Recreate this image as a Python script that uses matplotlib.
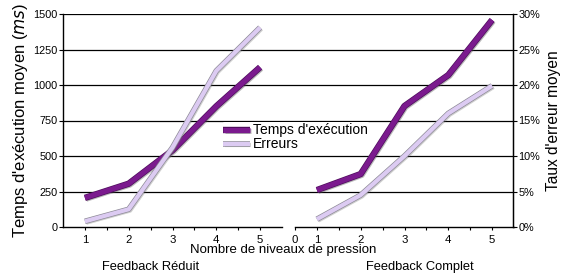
import matplotlib
matplotlib.use("Agg")
from matplotlib import pyplot as plt
from matplotlib.ticker import FixedLocator
import matplotlib.patheffects as pe

plt.rcParams['font.family'] = ['Liberation Sans', 'DejaVu Sans']

levels = [1, 2, 3, 4, 5]
temps_reduit = [205, 305, 540, 850, 1125]      # ms
erreurs_reduit = [0.8, 2.5, 11.2, 22.0, 28.1]   # %
temps_complet = [260, 373, 852, 1070, 1458]     # ms
erreurs_complet = [1.1, 4.5, 10.0, 16.0, 19.9]  # %

ms_ticks = [0, 250, 500, 750, 1000, 1250, 1500]
pct_ticks = [0, 5, 10, 15, 20, 25, 30]

c_temps = "#7b1a8e"
c_err = "#dccbf2"

W, H = 562, 277
fig = plt.figure(figsize=(W / 100, H / 100), dpi=100)

# background axes holding the continuous grid lines
bg = fig.add_axes([63 / W, 1 - 227 / H, (513 - 63) / W, 213 / H])
bg.set_xlim(0, 1)
bg.set_ylim(0, 1500)
for v in ms_ticks[1:]:
    bg.axhline(v, color="black", lw=0.9, zorder=0)
for s in ["top", "bottom"]:
    bg.spines[s].set_visible(False)
bg.spines["left"].set_linewidth(1.0)
bg.spines["right"].set_linewidth(1.0)
bg.set_xticks([])
bg.yaxis.set_major_locator(FixedLocator(ms_ticks))
bg.tick_params(axis="y", labelsize=7.8, length=3, width=0.8, pad=1)
bg.set_ylabel("Temps d'exécution moyen ($\\mathit{ms}$)", fontsize=12, labelpad=2)
bg.patch.set_alpha(0)

rbg = bg.twinx()
rbg.set_ylim(0, 30)
rbg.yaxis.set_major_locator(FixedLocator(pct_ticks))
rbg.set_yticklabels([f"{p}%" for p in pct_ticks])
rbg.tick_params(axis="y", labelsize=7.8, length=3, width=0.8, pad=1)
rbg.set_ylabel("Taux d'erreur moyen", fontsize=11.2, labelpad=4)
for s in ["top", "bottom", "left"]:
    rbg.spines[s].set_visible(False)

shadow_t = [pe.SimpleLineShadow(offset=(1, -1), shadow_color="#555555", alpha=0.4),
            pe.Stroke(linewidth=4.6, foreground="#4e0f5c"), pe.Normal()]
shadow_e = [pe.SimpleLineShadow(offset=(1, -1), shadow_color="#666666", alpha=0.3),
            pe.Stroke(linewidth=4.0, foreground="#8d8a96"), pe.Normal()]


def panel(left, temps, erreurs, title, title_x, zero_label):
    ax = fig.add_axes([left / W, 1 - 227 / H, 219 / W, 213 / H])
    ax.patch.set_alpha(0)
    ax.set_xlim(0.5, 5.5)
    ax.set_ylim(0, 1500)
    ax.set_yticks([])
    for s in ["top", "left", "right"]:
        ax.spines[s].set_visible(False)
    ax.spines["bottom"].set_linewidth(1.0)
    ticks = levels[:]
    labels = [str(l) for l in levels]
    if zero_label:
        ticks = [0.5] + ticks
        labels = ["0"] + labels
    ax.set_xticks(ticks)
    ax.set_xticklabels(labels)
    ax.set_xticks([1.5, 2.5, 3.5, 4.5], minor=True)
    ax.tick_params(axis="x", which="both", labelsize=8.2, length=2.5, width=0.8, pad=3)
    l1, = ax.plot(levels, temps, color=c_temps, lw=3.6, solid_capstyle="butt",
                  path_effects=shadow_t, zorder=3, label="Temps d'exécution")
    ax2 = ax.twinx()
    ax2.set_ylim(0, 30)
    ax2.axis("off")
    l2, = ax2.plot(levels, erreurs, color=c_err, lw=3.0, solid_capstyle="butt",
                   path_effects=shadow_e, zorder=3, label="Erreurs")
    fig.text(title_x / W, 1 - 267 / H, title, ha="center", va="center", fontsize=9.3)
    return ax2, l1, l2


ax_r, l1, l2 = panel(63, temps_reduit, erreurs_reduit, "Feedback Réduit", 151, False)
panel(295, temps_complet, erreurs_complet, "Feedback Complet", 420, True)

leg = ax_r.legend([l1, l2], ["Temps d'exécution", "Erreurs"], loc="upper left",
                  fontsize=10, frameon=True,
                  handlelength=1.9, handletextpad=0.25, labelspacing=0.0,
                  borderpad=0.1, borderaxespad=0)
leg.set_bbox_to_anchor((222 / W, 1 - 122 / H), transform=fig.transFigure)
leg.get_frame().set_facecolor("white")
leg.get_frame().set_edgecolor("none")
leg.get_frame().set_alpha(1)
leg.set_zorder(10)

fig.text(283 / W, 1 - 250 / H, "Nombre de niveaux de pression", ha="center", va="center", fontsize=9.5)

fig.savefig("out.png", dpi=100)
